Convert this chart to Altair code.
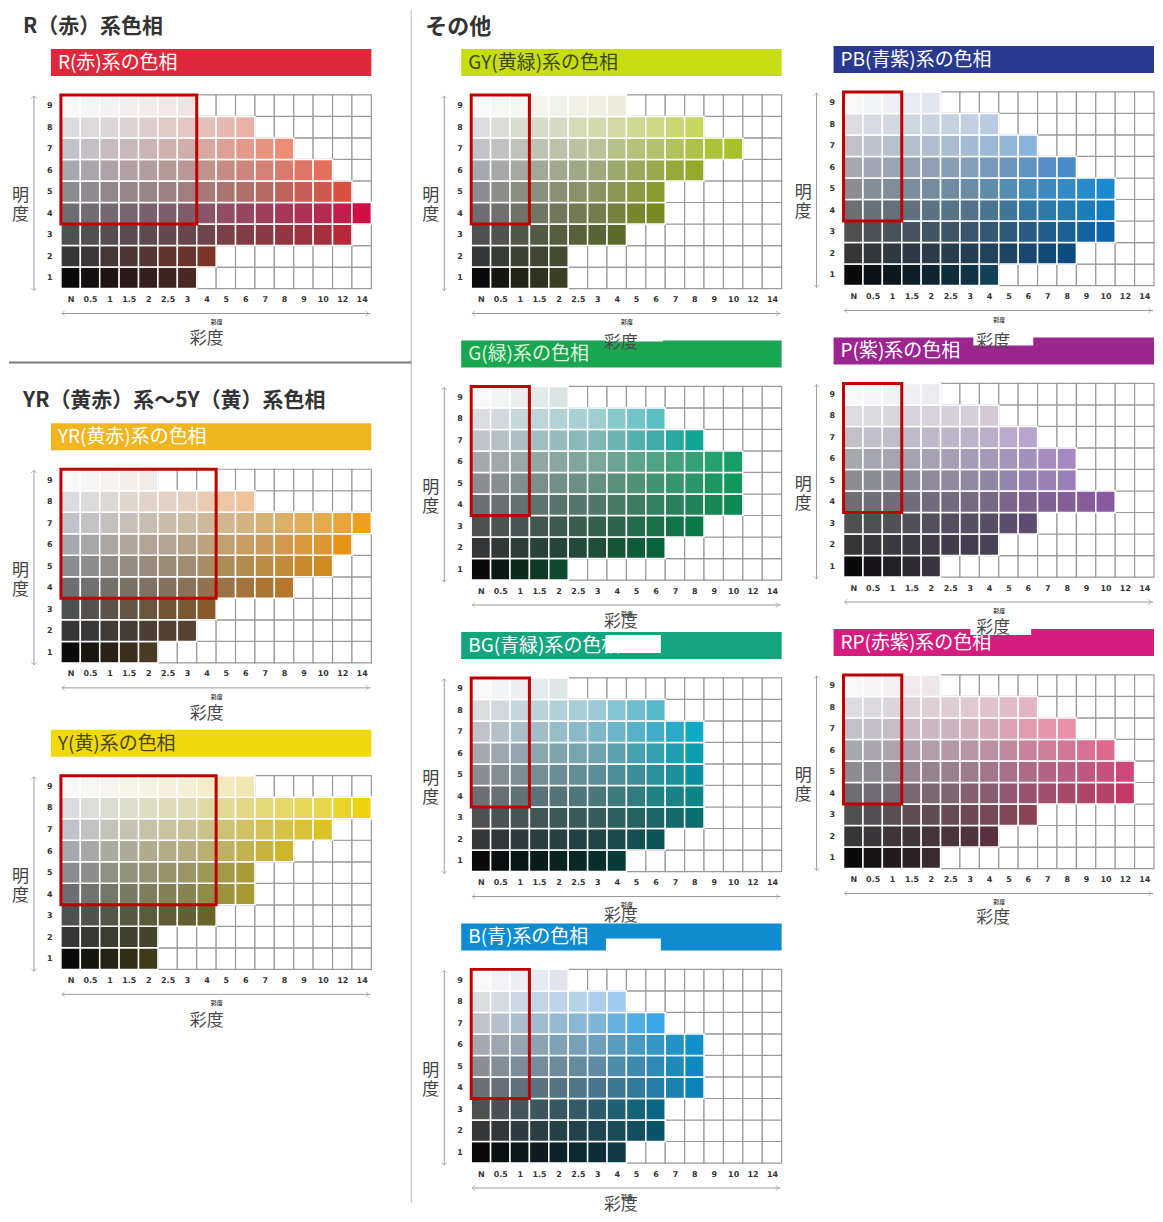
import json
import altair as alt
import pandas as pd

# ---------------- data ----------------
CHROMA_LABELS = ["N", "0.5", "1", "1.5", "2", "2.5", "3", "4", "5", "6", "7", "8", "9", "10", "12", "14"]
CHROMA = [0, 0.5, 1, 1.5, 2, 2.5, 3, 4, 5, 6, 7, 8, 9, 10, 12, 14]
VALUES = [1, 2, 3, 4, 5, 6, 7, 8, 9]
NEUTRAL = ["#0a0a0a", "#343638", "#4e5052", "#6d6f74", "#8b8d93", "#a6a8af", "#c1c2c9", "#dbdce0", "#f8f8f9"]

# number of coloured cells per value row (1..9)
R_EXT = [7, 8, 15, 16, 15, 14, 12, 10, 7]
YR_EXT = [5, 7, 8, 12, 14, 15, 16, 10, 5]
Y_EXT = [5, 5, 8, 10, 10, 12, 14, 16, 10]
GY_EXT = [5, 5, 8, 10, 10, 12, 14, 12, 8]
G_EXT = [5, 10, 12, 14, 14, 14, 12, 10, 5]
BG_EXT = [8, 10, 12, 12, 12, 12, 12, 10, 5]
B_EXT = [8, 10, 10, 12, 12, 12, 10, 8, 5]
PB_EXT = [8, 12, 14, 14, 14, 12, 10, 8, 5]
P_EXT = [5, 8, 10, 14, 12, 12, 10, 8, 5]
RP_EXT = [5, 8, 10, 15, 15, 14, 12, 10, 5]

# most saturated colour in each value row (1..9)
R_END = ["#4a2826", "#7a3428", "#b7283a", "#d01045", "#d9503f", "#e4705c", "#ee8c76", "#e8b0a6", "#efe4e2"]
YR_END = ["#4a3a22", "#5a4230", "#8a5a2a", "#b8762a", "#d08a20", "#e89218", "#f0a020", "#efc29a", "#f3ece6"]
Y_END = ["#3e3a1a", "#45432a", "#6a6428", "#a49a30", "#a89c38", "#cdb530", "#dcc228", "#ecd30e", "#f2e6b0"]
GY_END = ["#3a3f24", "#444c30", "#5c6a2a", "#7a8a22", "#8a9a30", "#94aa2a", "#a9c22a", "#c8d660", "#ecebd8"]
G_END = ["#0f4a2e", "#08643a", "#0a7a48", "#0c8a52", "#10985c", "#16a068", "#12a59a", "#5cbfc4", "#dbe4e4"]
BG_END = ["#0a3a36", "#0c5458", "#0b6e6e", "#0c8488", "#0c90a0", "#0e9cb0", "#12a8c8", "#58b8cc", "#dfe6ea"]
B_END = ["#0e3a48", "#0a5468", "#0a6884", "#0e82b8", "#1088c0", "#1090cc", "#3aa8e8", "#9ccaf0", "#e0e4ee"]
PB_END = ["#124058", "#0e4c80", "#0e64a8", "#127ec0", "#1c8ad0", "#4a8ac8", "#88b4de", "#b8cbe0", "#e2e6ee"]
P_END = ["#3a3440", "#4a4058", "#5e4c70", "#8a5aa0", "#9a80b8", "#a488c0", "#b8a4cc", "#d4c8d8", "#ecebf0"]
RP_END = ["#3a2a30", "#5a3040", "#8a4458", "#c43868", "#d0457a", "#dc6a8e", "#e890a8", "#e4b4c4", "#eee6ea"]

# highlighted (red box) rows
BOX_LOW_VALUE = 4
BOX_HIGH_VALUE = 9

JP = "Noto Sans CJK JP"
W, H = 311, 194


def hex2rgb(h):
    h = h.lstrip("#")
    return tuple(int(h[i:i + 2], 16) for i in (0, 2, 4))


def mix(a, b, t):
    ra, rb = hex2rgb(a), hex2rgb(b)
    return "#%02x%02x%02x" % tuple(int(round(ra[i] * (1 - t) + rb[i] * t)) for i in range(3))


def one():
    return alt.Chart(pd.DataFrame({"k": [0]}))


def text_at(x, y, txt, size, color="#333", align="center", weight="normal", baseline="middle", font=JP):
    return one().mark_text(text=txt, fontSize=size, color=color, align=align, baseline=baseline,
                           font=font, fontWeight=weight).encode(x=alt.value(x), y=alt.value(y))


def rect_at(x0, x1, y0, y1, color):
    return one().mark_rect(color=color).encode(x=alt.value(x0), x2=alt.value(x1), y=alt.value(y0), y2=alt.value(y1))


def rule_at(x0, x1, y0, y1, color, sw):
    return one().mark_rule(color=color, strokeWidth=sw).encode(x=alt.value(x0), x2=alt.value(x1),
                                                               y=alt.value(y0), y2=alt.value(y1))


def chevron(x, y, path):
    return one().mark_point(shape=path, size=30, filled=False, color="#9a9a9a", strokeWidth=1).encode(
        x=alt.value(x), y=alt.value(y))


def panel(ext, ends, hdr_color, hdr_text, hdr_text_color, box_cols, dx=0, dy=0, extras=None):
    rows = []
    for vi, v in enumerate(VALUES):
        n = ext[vi]
        cmax = CHROMA[n - 1] if CHROMA[n - 1] > 0 else 1
        for ci in range(16):
            if ci < n:
                rows.append(dict(x0=ci, x1=ci + 1, y0=v - 1, y1=v, order=1,
                                 fill=mix(NEUTRAL[vi], ends[vi], CHROMA[ci] / cmax),
                                 stroke="#ffffff", sw=1.5))
            else:
                rows.append(dict(x0=ci, x1=ci + 1, y0=v - 1, y1=v, order=0,
                                 fill="#ffffff", stroke="#9a9a9a", sw=1.2))
    df = pd.DataFrame(rows).sort_values("order", kind="stable")

    x_axis = alt.Axis(values=[i + 0.5 for i in range(16)], tickCount=40,
                      labelExpr=json.dumps(CHROMA_LABELS) + "[floor(datum.value)]",
                      title=None, labelPadding=7, labelAngle=0, labelOverlap=False,
                      labelFlush=False, offset=dy)
    y_axis = alt.Axis(values=[v - 0.5 for v in VALUES], tickCount=40, labelExpr="floor(datum.value) + 1",
                      title=["明", "度"], titleAngle=0, titleX=-41, titleY=101 + dy, titleAlign="center",
                      titleBaseline="middle", titleFont=JP, titleFontSize=17, titleFontWeight="normal",
                      titleColor="#444", titleLineHeight=19, labelPadding=9, labelOverlap=False,
                      labelFlush=False, offset=-dx)

    cells = alt.Chart(df).mark_rect().encode(
        x=alt.X("x0:Q", scale=alt.Scale(domain=[0, 16], range=[dx, dx + W], nice=False, zero=False),
                axis=x_axis),
        x2="x1:Q",
        y=alt.Y("y0:Q", scale=alt.Scale(domain=[0, 9], range=[dy + H, dy], nice=False, zero=False),
                axis=y_axis),
        y2="y1:Q",
        fill=alt.Fill("fill:N", scale=None),
        stroke=alt.Stroke("stroke:N", scale=None),
        strokeWidth=alt.StrokeWidth("sw:Q", scale=None),
    )
    box = alt.Chart(pd.DataFrame({"bx0": [0], "bx1": [box_cols],
                                  "by0": [BOX_LOW_VALUE - 1], "by1": [BOX_HIGH_VALUE]})).mark_rect(
        fillOpacity=0, stroke="#c00000", strokeWidth=3).encode(x="bx0:Q", x2="bx1:Q", y="by0:Q", y2="by1:Q")

    layers = [
        rect_at(dx - 10, dx + W, dy - 46, dy - 19, hdr_color),
        text_at(dx - 3, dy - 32, hdr_text, 19, color=hdr_text_color, align="left"),
        cells,
        box,
        rule_at(dx - 27, dx - 27, dy + 1, dy + H + 2, "#9a9a9a", 1),
        chevron(dx - 27, dy + 1, "M-1,1L0,0L1,1"),
        chevron(dx - 27, dy + H + 2, "M-1,-1L0,0L1,-1"),
        rule_at(dx + 1, dx + W - 1, dy + H + 25, dy + H + 25, "#9a9a9a", 1),
        chevron(dx + 1, dy + H + 25, "M1,-1L0,0L1,1"),
        chevron(dx + W - 3, dy + H + 25, "M-1,-1L0,0L-1,1"),
        text_at(dx + 156, dy + H + 34, "彩度", 6, color="#444", weight="bold"),
    ]
    if extras:
        layers += extras(dx, dy)
    return alt.layer(*layers).properties(width=W, height=H)


def big_label(x, y):
    return text_at(x, y, "彩度", 17, color="#4a4a4a")


def patch_label(bx0, bx1, by0, by1, tx, ty):
    return lambda dx, dy: [rect_at(dx + bx0, dx + bx1, dy + by0, dy + by1, "#ffffff"),
                           big_label(dx + tx, dy + ty)]


LEFT_DX = -38

r_panel = panel(R_EXT, R_END, "#e0283c", "R(赤)系の色相", "#ffffff", 7, dx=LEFT_DX, dy=0,
                extras=lambda dx, dy: [
                    rule_at(313, 313, -85, 1110, "#cfcfcf", 1.5),
                    rule_at(-90, 313, 268, 268, "#7a7a7a", 2),
                    text_at(dx - 38, dy - 68, "R（赤）系色相", 21, color="#333", align="left", weight="bold"),
                    big_label(dx + 146, dy + H + 51),
                ])
yr_panel = panel(YR_EXT, YR_END, "#f1b520", "YR(黄赤)系の色相", "#ffffff", 8, dx=LEFT_DX, dy=83,
                 extras=lambda dx, dy: [
                     text_at(dx - 38, dy - 68, "YR（黄赤）系～5Y（黄）系色相", 21, color="#333", align="left",
                             weight="bold"),
                     big_label(dx + 146, dy + H + 51),
                 ])
y_panel = panel(Y_EXT, Y_END, "#efd90a", "Y(黄)系の色相", "#4a4520", 8, dx=LEFT_DX, dy=98,
                extras=lambda dx, dy: [big_label(dx + 146, dy + H + 52)])
gy_panel = panel(GY_EXT, GY_END, "#c8dc14", "GY(黄緑)系の色相", "#3c4a14", 3,
                 extras=lambda dx, dy: [
                     text_at(dx - 46, dy - 68, "その他", 22, color="#333", align="left", weight="bold")])
g_panel = panel(G_EXT, G_END, "#1aa550", "G(緑)系の色相", "#dff5df", 3,
                extras=patch_label(135, 192, -60, -45, 150, -43))
bg_panel = panel(BG_EXT, BG_END, "#12a57e", "BG(青緑)系の色相", "#ffffff", 3,
                 extras=patch_label(135, 190, -43, -25, 150, -56))
b_patch = patch_label(135, 190, -31, -15, 150, -53)
b_panel = panel(B_EXT, B_END, "#0f8bd0", "B(青)系の色相", "#ffffff", 3,
                extras=lambda dx, dy: b_patch(dx, dy) + [big_label(dx + 150, dy + H + 42)])
pb_panel = panel(PB_EXT, PB_END, "#2a3990", "PB(青紫)系の色相", "#ffffff", 3, dy=-3)
p_panel = panel(P_EXT, P_END, "#9c2590", "P(紫)系の色相", "#ffffff", 3, dy=-3,
                extras=patch_label(130, 190, -53, -38, 150, -41))
rp_patch = patch_label(127, 188, -57, -40, 150, -47)
rp_panel = panel(RP_EXT, RP_END, "#d71c80", "RP(赤紫)系の色相", "#ffffff", 3, dy=-3,
                 extras=lambda dx, dy: rp_patch(dx, dy) + [big_label(dx + 150, dy + H + 50)])

empty = one().mark_point(opacity=0).encode(x=alt.value(0), y=alt.value(0)).properties(width=W, height=H)

chart = alt.concat(
    r_panel, gy_panel, pb_panel,
    yr_panel, g_panel, p_panel,
    y_panel, bg_panel, rp_panel,
    empty, b_panel,
    columns=3, spacing={"row": 98, "column": 62},
    bounds="flush",
).properties(padding=0, background="white")
chart = chart.configure_view(stroke=None).configure_axis(
    domain=False, ticks=False, grid=False, labelFont="DejaVu Sans", labelFontSize=8,
    labelFontWeight="bold", labelColor="#333")

chart.save("out.html", embed_options={"renderer": "svg", "actions": False})
